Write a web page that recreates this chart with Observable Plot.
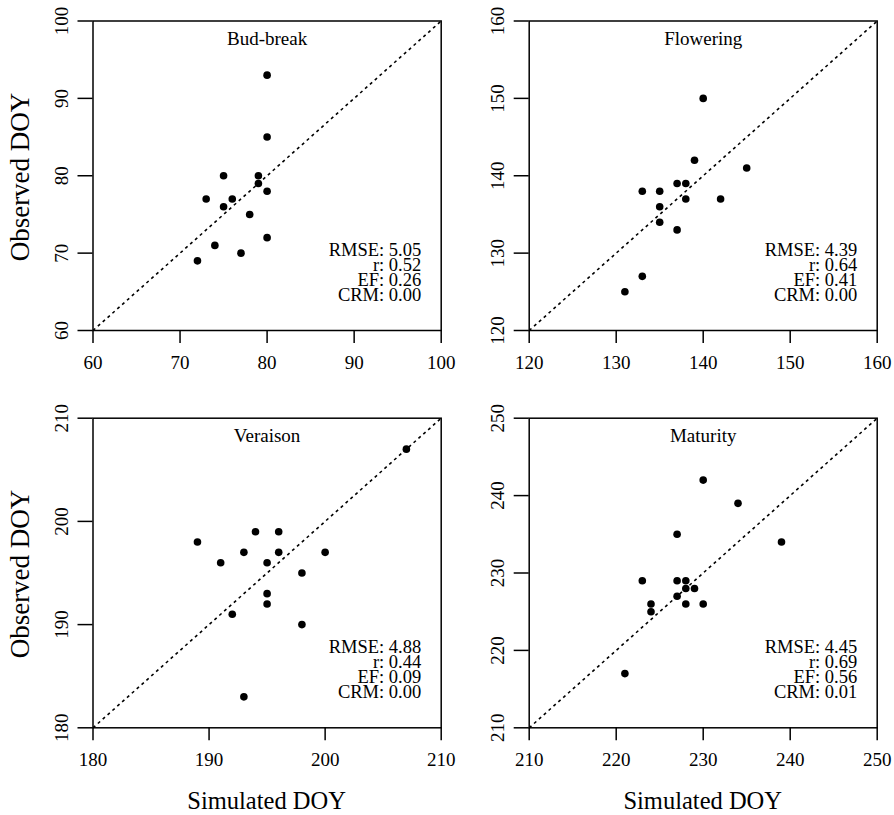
<!DOCTYPE html>
<html><head><meta charset="utf-8">
<script src="https://cdn.jsdelivr.net/npm/d3@7"></script>
<script src="https://cdn.jsdelivr.net/npm/@observablehq/plot@0.6"></script>
<style>
body{margin:0;background:#fff;}
#wrap{position:relative;width:894px;height:815px;font-family:"Liberation Serif","Times New Roman",serif;color:#000;background:#fff;}
.p{position:absolute;}
.p svg{overflow:visible;font-family:"Liberation Serif","Times New Roman",serif !important;}
.p svg text{font-family:"Liberation Serif","Times New Roman",serif !important;}
.lab{position:absolute;line-height:1;white-space:nowrap;color:#000;}
</style></head><body><div id="wrap"></div>
<script>
// ---- data ----
const titles = ["Bud-break", "Flowering", "Veraison", "Maturity"];

const budSim = [80, 80, 75, 79, 79, 80, 73, 76, 75, 78, 80, 74, 77, 72];
const budObs = [93, 85, 80, 80, 79, 78, 77, 77, 76, 75, 72, 71, 70, 69];

const floSim = [140, 139, 145, 133, 135, 137, 138, 138, 142, 135, 135, 137, 133, 131];
const floObs = [150, 142, 141, 138, 138, 139, 139, 137, 137, 136, 134, 133, 127, 125];

const verSim = [207, 189, 194, 196, 191, 193, 196, 200, 195, 198, 195, 195, 192, 198, 193];
const verObs = [207, 198, 199, 199, 196, 197, 197, 197, 196, 195, 193, 192, 191, 190, 183];

const matSim = [230, 234, 227, 239, 223, 227, 228, 228, 229, 227, 228, 230, 224, 224, 221];
const matObs = [242, 239, 235, 234, 229, 229, 229, 228, 228, 227, 226, 226, 226, 225, 217];

const budTicks = [60, 70, 80, 90, 100];
const floTicks = [120, 130, 140, 150, 160];
const verTicks = [180, 190, 200, 210];
const matTicks = [210, 220, 230, 240, 250];

const rmse = ["5.05", "4.39", "4.88", "4.45"];
const rVal = ["0.52", "0.64", "0.44", "0.69"];
const efVal = ["0.26", "0.41", "0.09", "0.56"];
const crmVal = ["0.00", "0.00", "0.00", "0.01"];

const xLabel = "Simulated DOY";
const yLabel = "Observed DOY";

// ---- layout ----
const sims = [budSim, floSim, verSim, matSim];
const obss = [budObs, floObs, verObs, matObs];
const tickSets = [budTicks, floTicks, verTicks, matTicks];
const boxes = [
  {left: 0,   top: 0,   width: 447, height: 395, ml: 92.5, mr: 6.3,  mt: 20.5, mb: 65},
  {left: 447, top: 0,   width: 447, height: 395, ml: 81.7, mr: 17.3, mt: 20.5, mb: 65},
  {left: 0,   top: 395, width: 447, height: 420, ml: 92.5, mr: 6.3,  mt: 22.7, mb: 87.7},
  {left: 447, top: 395, width: 447, height: 420, ml: 81.7, mr: 17.3, mt: 22.7, mb: 87.7}
];

const wrap = document.getElementById("wrap");
const font = "Liberation Serif, Times New Roman, serif";

titles.forEach((title, i) => {
  const b = boxes[i];
  const ticks = tickSets[i];
  const dom = [ticks[0], ticks[ticks.length - 1]];
  const pts = sims[i].map((s, k) => ({sim: s, obs: obss[i][k]}));
  const stats = `RMSE: ${rmse[i]}\nr: ${rVal[i]}\nEF: ${efVal[i]}\nCRM: ${crmVal[i]}`;
  const chart = Plot.plot({
    width: b.width, height: b.height,
    marginLeft: b.ml, marginRight: b.mr, marginTop: b.mt, marginBottom: b.mb,
    x: {domain: dom, label: null},
    y: {domain: dom, label: null},
    style: {fontFamily: font, fontSize: "19px", color: "black", background: "transparent", overflow: "visible"},
    marks: [
      Plot.link([{a: dom[0], b: dom[1]}], {x1: "a", y1: "a", x2: "b", y2: "b", stroke: "black", strokeWidth: 1.6, strokeDasharray: "3,3.5"}),
      Plot.frame({stroke: "black", strokeWidth: 1.5}),
      Plot.axisX(ticks, {anchor: "bottom", tickSize: 13, tickPadding: 12, fontSize: 19, fontFamily: font, strokeWidth: 1.5, label: null}),
      Plot.axisY(ticks, {anchor: "left", tickSize: 15, tickPadding: 10, tickRotate: -90, fontSize: 19, fontFamily: font, strokeWidth: 1.5, label: null}),
      Plot.dot(pts, {x: "sim", y: "obs", r: 3.8, fill: "black", stroke: "none"}),
      Plot.text([title], {frameAnchor: "top", dy: 24, lineAnchor: "bottom", fontSize: 19, fontFamily: font, fill: "black"}),
      Plot.text([stats], {frameAnchor: "bottom-right", textAnchor: "end", lineAnchor: "bottom", dx: -20, dy: -30, fontSize: 18.5, fontFamily: font, lineHeight: 0.81, fill: "black"})
    ]
  });
  const d = document.createElement("div");
  d.className = "p";
  d.style.left = b.left + "px";
  d.style.top = b.top + "px";
  d.style.width = b.width + "px";
  d.style.height = b.height + "px";
  d.appendChild(chart);
  wrap.appendChild(d);
});

function addLabel(text, cx, cy, rot, size) {
  const d = document.createElement("div");
  d.className = "lab";
  d.textContent = text;
  d.style.fontSize = size + "px";
  d.style.left = cx + "px";
  d.style.top = cy + "px";
  d.style.transform = "translate(-50%, -50%)" + (rot ? " rotate(-90deg)" : "");
  wrap.appendChild(d);
}
addLabel(xLabel, 266.6, 801, false, 24.5);
addLabel(xLabel, 702.7, 801, false, 24.5);
addLabel(yLabel, 20, 177, true, 27);
addLabel(yLabel, 20, 574, true, 27);
</script>
</body></html>
